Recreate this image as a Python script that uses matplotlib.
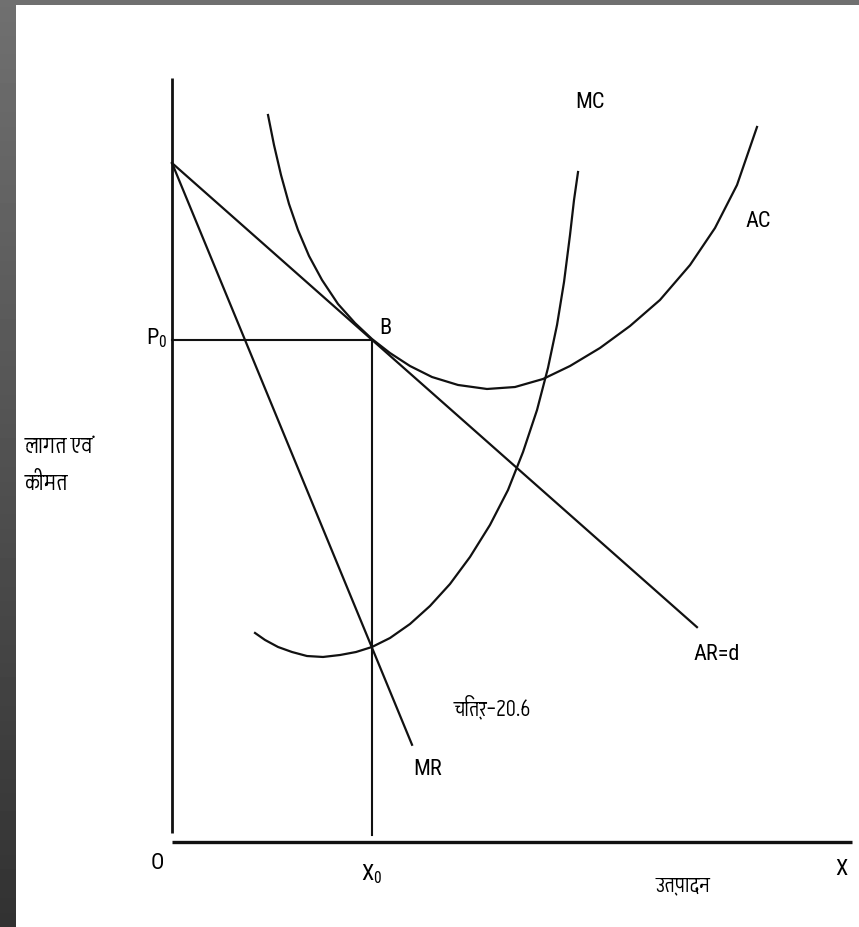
import matplotlib
matplotlib.use("Agg")
import matplotlib.pyplot as plt
import numpy as np
from matplotlib import font_manager
from matplotlib.ft2font import FT2Font


def first_installed(names):
    for n in names:
        try:
            font_manager.findfont(n, fallback_to_default=False)
            return n
        except Exception:
            pass
    return "DejaVu Sans"


# a face with Devanagari glyphs
deva_fonts = []
for f in font_manager.fontManager.ttflist:
    try:
        if FT2Font(f.fname).get_char_index(ord("क")):
            deva_fonts.append(f.name)
    except Exception:
        pass
deva_fonts = sorted(set(deva_fonts))

latin = first_installed(["Liberation Sans Narrow", "Roboto Condensed", "Archivo Narrow",
                         "PT Sans Narrow", "Open Sans Condensed", "Carlito", "Open Sans"])
deva = first_installed(["Akshar"] + deva_fonts)

# curve points (output, cost/price)
mc_x = [1.221, 1.368, 1.559, 1.765, 1.985, 2.221, 2.471, 2.706, 2.941, 3.206, 3.500, 3.794,
        4.088, 4.382, 4.676, 4.941, 5.162, 5.368, 5.529, 5.662, 5.765, 5.853, 5.912, 5.971]
mc_y = [3.074, 2.971, 2.868, 2.794, 2.735, 2.721, 2.750, 2.794, 2.868, 3.000, 3.206, 3.471,
        3.794, 4.191, 4.662, 5.176, 5.735, 6.353, 6.971, 7.603, 8.235, 8.926, 9.441, 9.853]

ac_x = [1.412, 1.500, 1.603, 1.721, 1.853, 2.015, 2.206, 2.441, 2.691, 2.941, 3.206, 3.500,
        3.824, 4.206, 4.632, 5.044, 5.456, 5.853, 6.294, 6.735, 7.176, 7.618, 7.985, 8.309, 8.603]
ac_y = [10.691, 10.250, 9.809, 9.382, 9.000, 8.618, 8.265, 7.912, 7.632, 7.397, 7.191, 7.000,
        6.838, 6.721, 6.662, 6.691, 6.809, 7.000, 7.265, 7.588, 7.971, 8.485, 9.029, 9.662, 10.515]

ar_x = [0.0, 7.72]
ar_y = [9.985, 3.16]

mr_x = [0.0, 3.53]
mr_y = [9.985, 1.43]

x0 = 2.94
p0 = np.interp(x0, ar_x, ar_y)

fig = plt.figure(figsize=(8.59, 9.27), dpi=100)
fig.patch.set_facecolor("white")

# grey frame on the left and top
band = fig.add_axes([0, 0, 16 / 859, 1])
band.imshow(np.linspace(112, 50, 256).reshape(-1, 1), cmap="gray", vmin=0, vmax=255,
            aspect="auto", extent=[0, 1, 0, 1])
band.axis("off")
top = fig.add_axes([0, 1 - 5 / 927, 1, 5 / 927])
top.set_facecolor("#707070")
top.set_xticks([])
top.set_yticks([])
for s in top.spines.values():
    s.set_visible(False)

ax = fig.add_axes([16 / 859, 0, 1 - 16 / 859, 1 - 5 / 927])
ax.set_xlim((16 - 172) / 68, (859 - 172) / 68)
ax.set_ylim((842 - 927) / 68, (842 - 5) / 68)
ax.axis("off")

lat = [latin, "DejaVu Sans"]
hin = [deva, "DejaVu Sans"]
ink = "#111111"

# axes
ax.plot([0, 0], [0.13, 11.24], color=ink, lw=2.0, solid_capstyle="butt")
ax.plot([0, 10.0], [0, 0], color=ink, lw=2.4, solid_capstyle="butt")

# curves
ax.plot(mc_x, mc_y, color=ink, lw=1.6)
ax.plot(ac_x, ac_y, color=ink, lw=1.6)
ax.plot(ar_x, ar_y, color=ink, lw=1.6)
ax.plot(mr_x, mr_y, color=ink, lw=1.6)

# equilibrium guides
ax.plot([0, x0], [p0, p0], color=ink, lw=1.5)
ax.plot([x0, x0], [0.1, p0], color=ink, lw=1.5)

fs = 16
ax.text(6.15, 10.87, "MC", fontsize=fs, family=lat, ha="center", va="center")
ax.text(8.62, 9.12, "AC", fontsize=fs, family=lat, ha="center", va="center")
ax.text(3.13, 7.55, "B", fontsize=fs, family=lat, ha="center", va="center")
ax.text(-0.07, p0 + 0.02, r"P$\mathregular{_0}$", fontsize=fs, family=lat, ha="right", va="center")
ax.text(8.01, 2.75, "AR=d", fontsize=fs, family=lat, ha="center", va="center")
ax.text(3.76, 1.06, "MR", fontsize=fs, family=lat, ha="center", va="center")
ax.text(4.71, 1.99, "चित्र–20.6", fontsize=fs, family=hin, ha="center", va="center")
ax.text(-0.21, -0.32, "O", fontsize=fs, family=lat, ha="center", va="center")
ax.text(x0, -0.47, r"X$\mathregular{_0}$", fontsize=fs, family=lat, ha="center", va="center")
ax.text(9.85, -0.41, "X", fontsize=fs, family=lat, ha="center", va="center")
ax.text(7.51, -0.63, "उत्पादन", fontsize=fs, family=hin, ha="center", va="center")
ax.text(-2.16, 5.81, "लागत एवं", fontsize=17, family=hin, ha="left", va="center")
ax.text(-2.16, 5.28, "कीमत", fontsize=17, family=hin, ha="left", va="center")

fig.savefig("out.png", dpi=100)
